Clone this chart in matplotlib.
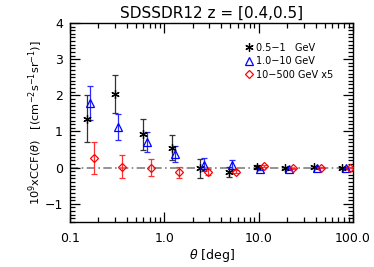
import matplotlib
matplotlib.use("Agg")
import matplotlib.pyplot as plt
from matplotlib.ticker import FixedLocator, MultipleLocator, LogLocator, NullFormatter
import numpy as np

plt.rcParams['font.family'] = ['DejaVu Sans']

theta = [0.15, 0.3, 0.6, 1.2, 2.4, 4.8, 9.6, 19.2, 38.4, 76.8]
theta_blue = [0.163, 0.326, 0.652, 1.30, 2.61, 5.22, 10.4, 20.9, 41.7, 83.5]
theta_red = [0.18, 0.36, 0.72, 1.44, 2.88, 5.76, 11.5, 23.0, 46.1, 92.2]

ccf_black = [1.35, 2.03, 0.92, 0.55, -0.02, -0.12, 0.02, -0.02, 0.02, 0.0]
err_black = [0.65, 0.52, 0.42, 0.35, 0.27, 0.15, 0.05, 0.03, 0.02, 0.02]
ccf_blue = [1.78, 1.12, 0.70, 0.37, 0.08, 0.08, -0.03, -0.04, 0.0, -0.01]
err_blue = [0.47, 0.36, 0.28, 0.22, 0.18, 0.12, 0.04, 0.03, 0.02, 0.02]
ccf_red = [0.27, 0.03, 0.0, -0.13, -0.12, -0.11, 0.04, -0.02, 0.0, 0.0]
err_red = [0.44, 0.32, 0.23, 0.15, 0.08, 0.04, 0.03, 0.02, 0.02, 0.02]

labels = ["0.5\u22121   GeV", "1.0\u221210 GeV", "10\u2212500 GeV x5"]
xtick_vals = [0.1, 1.0, 10.0, 100.0]
xtick_labels = ["0.1", "1.0", "10.0", "100.0"]
ytick_vals = [-1, 0, 1, 2, 3, 4]

fig = plt.figure(figsize=(3.74, 2.67), dpi=100)
ax = fig.add_axes([0.187, 0.169, 0.757, 0.745])

ax.axhline(0, color='#808080', ls=(0, (5, 2, 1, 2)), lw=1.2, zorder=1)

ax.errorbar(theta, ccf_black, yerr=err_black, fmt='none', ecolor='#333333', elinewidth=0.9, capsize=2, capthick=0.9, zorder=2)
ax.plot(theta, ccf_black, ls='none', marker=(6, 2, 0), ms=6, mec='black', mew=0.9, color='black', label=labels[0], zorder=3)

ax.errorbar(theta_blue, ccf_blue, yerr=err_blue, fmt='none', ecolor='#2a2aff', elinewidth=0.9, capsize=2, capthick=0.9, zorder=2)
ax.plot(theta_blue, ccf_blue, ls='none', marker='^', ms=5.5, mfc='none', mec='blue', mew=0.9, label=labels[1], zorder=3)

ax.errorbar(theta_red, ccf_red, yerr=err_red, fmt='none', ecolor='#ff3030', elinewidth=0.9, capsize=2, capthick=0.9, zorder=2)
ax.plot(theta_red, ccf_red, ls='none', marker='D', ms=4, mfc='none', mec='red', mew=0.9, label=labels[2], zorder=3)

ax.set_xscale('log')
ax.set_xlim(0.1, 100.0)
ax.set_ylim(-1.5, 4)
ax.set_xticks(xtick_vals)
ax.set_xticklabels(xtick_labels)
ax.xaxis.set_minor_locator(LogLocator(base=10, subs=np.arange(2, 10)))
ax.xaxis.set_minor_formatter(NullFormatter())
ax.yaxis.set_major_locator(FixedLocator(ytick_vals))
ax.yaxis.set_minor_locator(MultipleLocator(0.1))
ax.set_yticklabels(["\u22121", "0", "1", "2", "3", "4"])

ax.tick_params(which='both', direction='in', top=True, right=True, labelsize=9, width=0.9)
ax.tick_params(which='major', length=7)
ax.tick_params(axis='x', which='major', pad=7)
ax.tick_params(axis='y', which='major', pad=5)
ax.tick_params(which='minor', length=3.5)
for s in ax.spines.values():
    s.set_linewidth(1.0)

ax.set_title("SDSSDR12 z = [0.4,0.5]", fontsize=11, pad=4)
ax.set_xlabel(r"$\theta$ [deg]", fontsize=9, labelpad=2)
ax.set_ylabel(r"10$^9$xCCF($\theta$)   [(cm$^{-2}$s$^{-1}$sr$^{-1}$)]", fontsize=8.2, labelpad=0)

leg = ax.legend(loc='upper left', bbox_to_anchor=(0.6, 0.925), frameon=False, fontsize=7,
                handlelength=0.8, handletextpad=0.4, labelspacing=0.35, borderpad=0)

fig.savefig("out.png", dpi=100)
